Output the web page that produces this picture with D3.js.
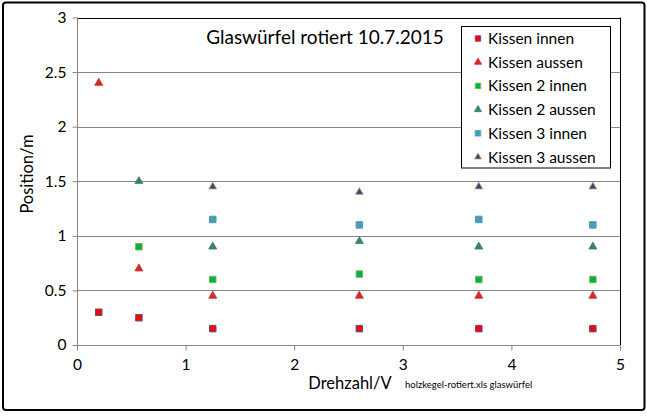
<!DOCTYPE html>
<html>
<head>
<meta charset="utf-8">
<script src="https://cdn.jsdelivr.net/npm/d3@7"></script>
<style>
  html, body { margin: 0; padding: 0; background: #fff; }
  svg { display: block; font-family: Lato, "Open Sans", sans-serif; }
</style>
</head>
<body>
<svg id="chart" width="647" height="419"></svg>
<script>
const drehzahl = [0.2, 0.57, 1.25, 2.6, 3.7, 4.75];
const kissenInnen   = [0.30, 0.25, 0.15, 0.15, 0.15, 0.15];
const kissenAussen  = [2.40, 0.70, 0.45, 0.45, 0.45, 0.45];
const kissen2Innen  = [null, 0.90, 0.60, 0.65, 0.60, 0.60];
const kissen2Aussen = [null, 1.50, 0.90, 0.95, 0.90, 0.90];
const kissen3Innen  = [null, null, 1.15, 1.10, 1.15, 1.10];
const kissen3Aussen = [null, null, 1.45, 1.40, 1.45, 1.45];
const seriesNames = ["Kissen innen", "Kissen aussen", "Kissen 2 innen", "Kissen 2 aussen", "Kissen 3 innen", "Kissen 3 aussen"];
const xTicks = [0, 1, 2, 3, 4, 5];
const yTicks = [0, 0.5, 1, 1.5, 2, 2.5, 3];
const title = "Glaswürfel rotiert 10.7.2015";
const xLabel = "Drehzahl/V";
const yLabel = "Position/m";
const note = "holzkegel-rotiert.xls glaswürfel";

const seriesValues = [kissenInnen, kissenAussen, kissen2Innen, kissen2Aussen, kissen3Innen, kissen3Aussen];
const styles = [
  {shape: "square",   fill: "#ff0000", stroke: "#5f4f7f"},
  {shape: "triangle", fill: "#d42a2a", stroke: "#d42a2a"},
  {shape: "square",   fill: "#00b050", stroke: "#7ab648"},
  {shape: "triangle", fill: "#2e8a62", stroke: "#4f6f8f"},
  {shape: "square",   fill: "#4a9bb5", stroke: "#4a9bb5"},
  {shape: "triangle", fill: "#2a4a90", stroke: "#f0a070"}
];

const svg = d3.select("#chart");
const x = d3.scaleLinear().domain([0, 5]).range([77, 620]);
const y = d3.scaleLinear().domain([0, 3]).range([345, 17.5]);

// outer border
svg.append("rect").attr("x", 3).attr("y", 2.5).attr("width", 641.5).attr("height", 407.5)
  .attr("rx", 3).attr("fill", "#fff").attr("stroke", "#000").attr("stroke-width", 2);

// gridlines
svg.append("g").selectAll("line").data(yTicks.filter(d => d > 0)).join("line")
  .attr("x1", x(0)).attr("x2", x(5)).attr("y1", d => Math.round(y(d)) + 0.5).attr("y2", d => Math.round(y(d)) + 0.5)
  .attr("stroke", "#868686").attr("stroke-width", 1);

// plot border top/right
svg.append("line").attr("x1", x(0)).attr("x2", x(5) + 0.5).attr("y1", Math.round(y(3)) + 0.5).attr("y2", Math.round(y(3)) + 0.5)
  .attr("stroke", "#000");
svg.append("line").attr("x1", Math.round(x(5)) + 0.5).attr("x2", Math.round(x(5)) + 0.5).attr("y1", y(3)).attr("y2", y(0))
  .attr("stroke", "#000");

// axes
const yAxis = d3.axisLeft(y).tickValues(yTicks).tickSize(5).tickPadding(6).tickFormat(d3.format("~g"));
const xAxis = d3.axisBottom(x).tickValues(xTicks).tickSize(5).tickPadding(8).tickFormat(d3.format("d"));
const gy = svg.append("g").attr("transform", `translate(${Math.round(x(0)) + 0.5},0)`).call(yAxis);
const gx = svg.append("g").attr("transform", `translate(0,${Math.round(y(0)) + 0.5})`).call(xAxis);
[gx, gy].forEach(g => {
  g.select(".domain").attr("stroke", "#868686");
  g.selectAll(".tick line").attr("stroke", "#868686");
  g.selectAll(".tick text").attr("fill", "#000").attr("font-size", 15.5).attr("font-family", "Lato, sans-serif");
});
gy.select(".domain").attr("d", `M0,${y(3)}V${y(0)}`);
gx.select(".domain").attr("d", `M${x(0)},0H${x(5)}`);

// markers
const sq = d3.symbol().type(d3.symbolSquare).size(42);
const tri = d3.symbol().type(d3.symbolTriangle).size(28);
seriesValues.forEach((vals, i) => {
  const st = styles[i];
  const pts = vals.map((v, j) => ({x: drehzahl[j], y: v})).filter(p => p.y !== null);
  svg.append("g").selectAll("path").data(pts).join("path")
    .attr("d", st.shape === "square" ? sq : tri)
    .attr("transform", p => `translate(${x(p.x)},${y(p.y)})`)
    .attr("fill", st.fill).attr("stroke", st.stroke).attr("stroke-width", st.shape === "square" ? 1 : 0.8);
});

// title
svg.append("text").attr("x", 325).attr("y", 44).attr("text-anchor", "middle")
  .attr("font-size", 19).attr("fill", "#000").text(title);

// axis labels
svg.append("text").attr("x", 350).attr("y", 389).attr("text-anchor", "middle")
  .attr("font-size", 16.5).attr("fill", "#000").text(xLabel);
svg.append("text").attr("x", 405).attr("y", 388)
  .attr("font-size", 9.5).attr("fill", "#000").text(note);
svg.append("text").attr("transform", "translate(33,174) rotate(-90)").attr("text-anchor", "middle")
  .attr("font-size", 16.5).attr("fill", "#000").text(yLabel);

// legend
const lg = svg.append("g");
lg.append("rect").attr("x", 461.5).attr("y", 26.5).attr("width", 149).attr("height", 141.5)
  .attr("fill", "#fff").attr("stroke", "#000").attr("stroke-width", 1);
const lsq = d3.symbol().type(d3.symbolSquare).size(30);
const ltri = d3.symbol().type(d3.symbolTriangle).size(22);
seriesNames.forEach((name, i) => {
  const yy = 38.5 + i * 23.7;
  const st = styles[i];
  lg.append("path").attr("d", st.shape === "square" ? lsq : ltri)
    .attr("transform", `translate(478,${yy})`)
    .attr("fill", st.fill).attr("stroke", st.stroke).attr("stroke-width", 0.8);
  lg.append("text").attr("x", 488).attr("y", yy + 5.5).attr("font-size", 15.5).attr("fill", "#000").text(name);
});
</script>
</body>
</html>
